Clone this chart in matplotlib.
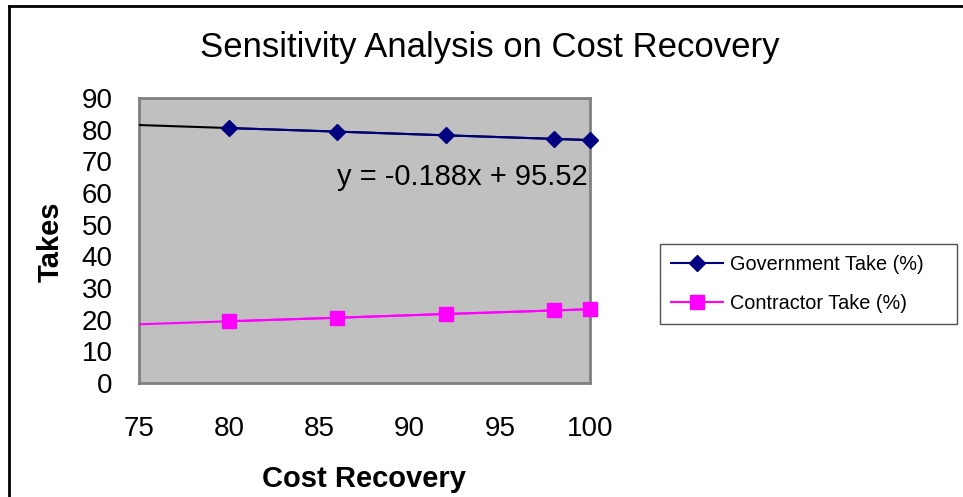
import numpy as np
import matplotlib
matplotlib.use("Agg")
import matplotlib.pyplot as plt

plt.rcParams['font.family'] = ['Liberation Sans', 'DejaVu Sans']

cost_recovery = [80, 86, 92, 98, 100]
gov_take = [80.5, 79.4, 78.2, 77.1, 76.7]
contractor_take = [19.5, 20.6, 21.8, 22.9, 23.3]
x_ticks = [75, 80, 85, 90, 95, 100]
y_ticks = [0, 10, 20, 30, 40, 50, 60, 70, 80, 90]

fig = plt.figure(figsize=(9.63, 4.97), dpi=100)
# chart frame (only top and left visible in the crop)
fig.add_artist(plt.Line2D([9/963, 9/963], [0, 1 - 6/497], transform=fig.transFigure, color='black', lw=2))
fig.add_artist(plt.Line2D([9/963, 1], [1 - 6/497, 1 - 6/497], transform=fig.transFigure, color='black', lw=2))

ax = fig.add_axes([139/963, 114/497, 451/963, 285/497])
ax.set_facecolor('#C0C0C0')
for s in ax.spines.values():
    s.set_color('#808080')
    s.set_linewidth(2)

# trendlines extended back to 75
xt = np.array([75, 100])
pg = np.polyfit(cost_recovery, gov_take, 1)
pc = np.polyfit(cost_recovery, contractor_take, 1)
ax.plot(xt, np.polyval(pg, xt), color='black', lw=1.5, zorder=3)
ax.plot(xt, np.polyval(pc, xt), color='#FF00FF', lw=1.5, zorder=3)

ax.plot(cost_recovery, gov_take, color='#000080', lw=1.5, marker='D', markersize=8,
        label='Government Take (%)', zorder=4, clip_on=False)
ax.plot(cost_recovery, contractor_take, color='#FF00FF', lw=1.5, marker='s', markersize=10,
        label='Contractor Take (%)', zorder=4, clip_on=False)

ax.set_xlim(75, 100)
ax.set_ylim(0, 90)
ax.set_xticks(x_ticks)
ax.set_yticks(y_ticks)
ax.tick_params(length=0, labelsize=20)
ax.tick_params(axis='y', pad=19)
ax.tick_params(axis='x', pad=24)

ax.text(99.9, 65, 'y = -0.188x + 95.52', fontsize=21, ha='right', va='center')

fig.text(490/963, 1 - 47/497, 'Sensitivity Analysis on Cost Recovery', fontsize=25,
         ha='center', va='center')
fig.text(51/963, 1 - 242/497, 'Takes', fontsize=21, fontweight='bold', rotation=90,
         ha='center', va='center')
fig.text(364/963, 1 - 479/497, 'Cost Recovery', fontsize=21, fontweight='bold',
         ha='center', va='center')

leg = fig.legend(loc='upper left', bbox_to_anchor=(660/963, 1 - 324/497, 297/963, 80/497),
                 mode='expand', borderaxespad=0, fontsize=14.3,
                 frameon=True, fancybox=False, edgecolor='#505050', framealpha=1,
                 handlelength=2.6, borderpad=0.55, labelspacing=1.0, handletextpad=0.35)
leg.get_frame().set_linewidth(1)

fig.savefig('out.png', dpi=100)
